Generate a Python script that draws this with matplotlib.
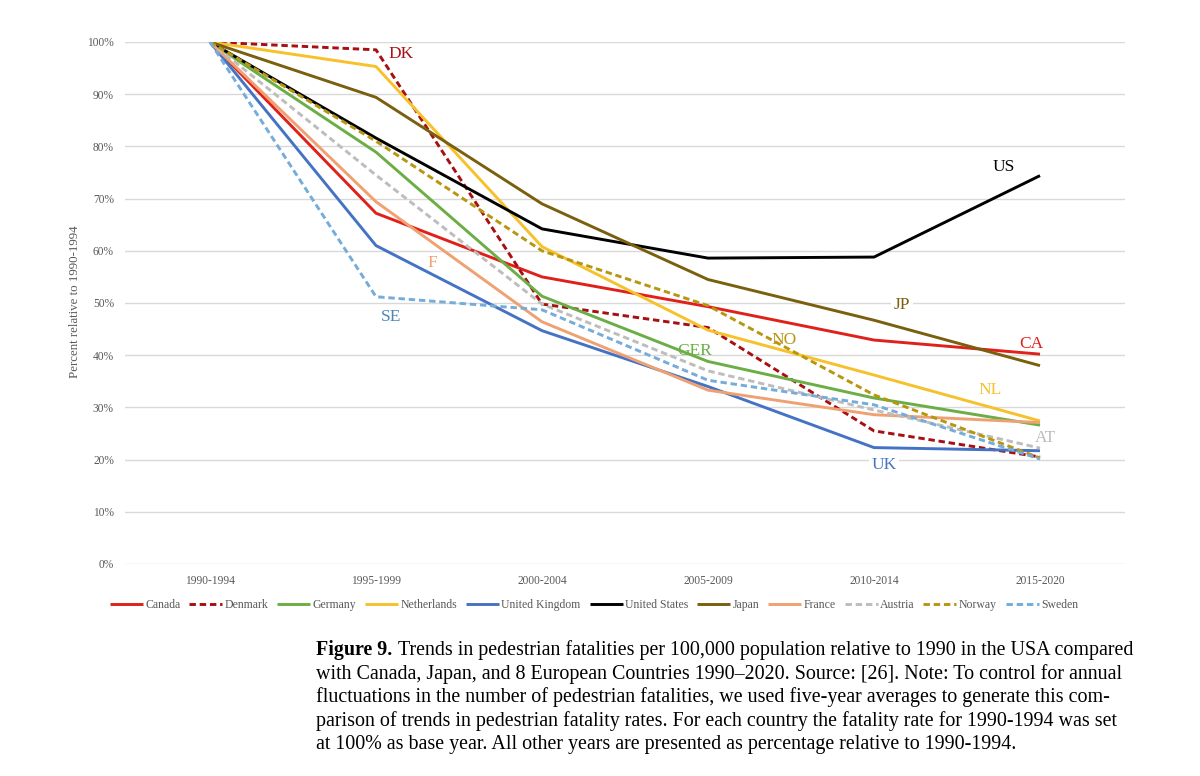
import matplotlib
matplotlib.use("Agg")
import matplotlib.pyplot as plt

plt.rcParams["font.family"] = ["Liberation Serif", "DejaVu Serif"]

periods = ["1990-1994", "1995-1999", "2000-2004", "2005-2009", "2010-2014", "2015-2020"]

canada = [100, 67.2, 55.0, 49.3, 42.9, 40.2]
denmark = [100, 98.5, 49.8, 45.3, 25.5, 20.5]
germany = [100, 78.9, 51.3, 38.8, 31.8, 26.6]
netherlands = [100, 95.3, 60.8, 44.8, 36.2, 27.4]
uk = [100, 61.0, 44.7, 34.0, 22.3, 21.7]
usa = [100, 81.6, 64.2, 58.6, 58.8, 74.4]
japan = [100, 89.4, 69.0, 54.5, 46.7, 38.0]
france = [100, 69.4, 46.4, 33.3, 28.6, 27.1]
austria = [100, 74.5, 49.8, 37.0, 29.5, 22.2]
norway = [100, 81.0, 60.0, 49.5, 32.4, 20.3]
sweden = [100, 51.2, 48.7, 35.2, 30.5, 20.1]

# name, values, colour, dashed
series = [
    ("Canada", canada, "#E0201B", False),
    ("Denmark", denmark, "#A80F12", True),
    ("Germany", germany, "#6AAE45", False),
    ("Netherlands", netherlands, "#F7C12B", False),
    ("United Kingdom", uk, "#4472C4", False),
    ("United States", usa, "#000000", False),
    ("Japan", japan, "#7A5F0E", False),
    ("France", france, "#EFA172", False),
    ("Austria", austria, "#BDBDBD", True),
    ("Norway", norway, "#B8960F", True),
    ("Sweden", sweden, "#76ACDA", True),
]

# in-chart labels: text, x position (period index), value, colour, white box
labels = [
    ("DK", 1.15, 97.7, "#A80F12", False),
    ("US", 4.78, 76.0, "#000000", False),
    ("JP", 4.17, 49.6, "#7A5F0E", True),
    ("CA", 4.95, 42.2, "#E0201B", False),
    ("NL", 4.7, 33.3, "#F7C12B", False),
    ("NO", 3.46, 42.9, "#B8960F", False),
    ("GER", 2.92, 40.8, "#6AAE45", False),
    ("F", 1.34, 57.6, "#EFA172", False),
    ("SE", 1.09, 47.3, "#4F86B8", False),
    ("UK", 4.06, 18.9, "#4472C4", True),
    ("AT", 5.03, 24.2, "#BDBDBD", False),
]

fig = plt.figure(figsize=(12, 7.76), dpi=100)
ax = fig.add_axes([125 / 1200, 1 - 564 / 776, 1000 / 1200, 522 / 776])

x = list(range(len(periods)))
for name, vals, color, dashed in series:
    ax.plot(x, vals, color=color, lw=2.1,
            linestyle=(0, (2.2, 1.3)) if dashed else "-",
            label=name, solid_capstyle="butt", dash_capstyle="butt")

for text, xi, yv, color, boxed in labels:
    ax.text(xi, yv, text, color=color, fontsize=12.5, ha="center", va="center",
            bbox=dict(facecolor="white", edgecolor="none", pad=2) if boxed else None,
            zorder=5)

ax.set_xlim(-0.512, 5.512)
ax.set_ylim(0, 100)
ax.set_yticks(range(0, 101, 10))
ax.set_yticklabels([f"{v}%" for v in range(0, 101, 10)])
ax.set_xticks(x)
ax.set_xticklabels(periods)
ax.tick_params(axis="both", length=0, labelsize=8.3, labelcolor="#595959")
ax.tick_params(axis="y", pad=8)
ax.tick_params(axis="x", pad=8)
ax.grid(axis="y", color="#D9D9D9", lw=1)
ax.set_axisbelow(True)
for s in ax.spines.values():
    s.set_visible(False)

fig.text(75 / 1200, 1 - 302 / 776, "Percent relative to 1990-1994", rotation=90,
         ha="center", va="center", fontsize=9.3, color="#595959")

fig.legend(loc="center", bbox_to_anchor=(594 / 1200, 1 - 605 / 776), ncol=11,
           frameon=False, fontsize=8.5, labelcolor="#595959", handlelength=2.8,
           handletextpad=0.2, columnspacing=0.75)

caption = [
    "Trends in pedestrian fatalities per 100,000 population relative to 1990 in the USA compared",
    "with Canada, Japan, and 8 European Countries 1990\u20132020. Source: [26]. Note: To control for annual",
    "fluctuations in the number of pedestrian fatalities, we used five-year averages to generate this com-",
    "parison of trends in pedestrian fatality rates. For each country the fatality rate for 1990-1994 was set",
    "at 100% as base year. All other years are presented as percentage relative to 1990-1994.",
]
ys = [650, 674, 697, 721, 745]
fsize = 14.4
head = fig.text(316 / 1200, 1 - ys[0] / 776, "Figure 9.", fontsize=fsize,
                fontweight="bold", ha="left", va="center")
ax.annotate(caption[0], xy=(1, 0.5), xycoords=head, xytext=(4, 0),
            textcoords="offset points", fontsize=fsize, ha="left", va="center",
            annotation_clip=False)
for line, yy in zip(caption[1:], ys[1:]):
    fig.text(316 / 1200, 1 - yy / 776, line, fontsize=fsize, ha="left", va="center")

fig.savefig("out.png", dpi=100)
